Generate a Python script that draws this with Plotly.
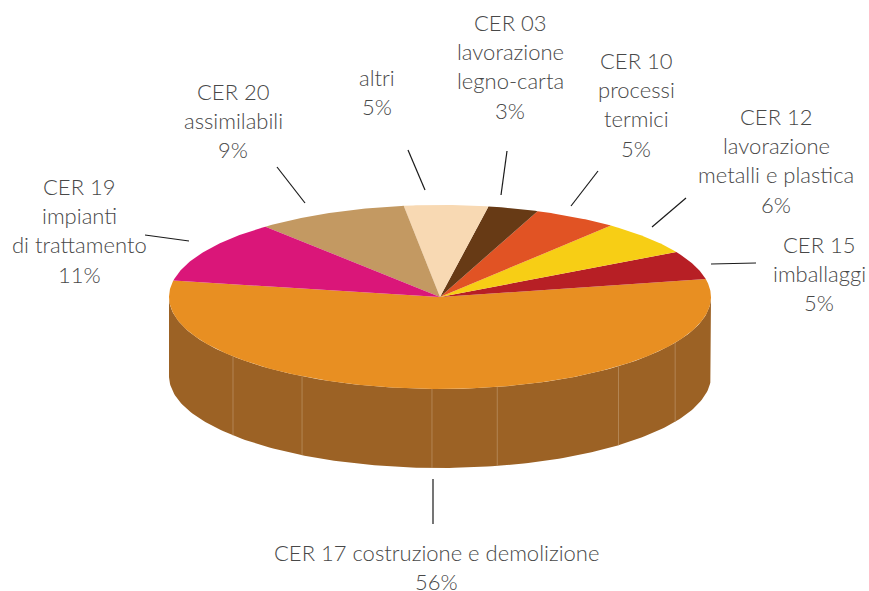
import numpy as np
import plotly.graph_objects as go

# ---- data ----
categories = ["CER 17", "CER 15", "CER 12", "CER 10", "CER 03", "altri", "CER 20", "CER 19"]
values = [56, 5, 6, 5, 3, 5, 9, 11]
colors = ["#E88F22", "#B71F25", "#F7CE15", "#E15324", "#673A15", "#F8D9B3", "#C39962", "#DA1679"]
label_lines = [
    ["CER 17 costruzione e demolizione", "56%"],
    ["CER 15", "imballaggi", "5%"],
    ["CER 12", "lavorazione", "metalli e plastica", "6%"],
    ["CER 10", "processi", "termici", "5%"],
    ["CER 03", "lavorazione", "legno-carta", "3%"],
    ["altri", "5%"],
    ["CER 20", "assimilabili", "9%"],
    ["CER 19", "impianti", "di trattamento", "11%"],
]

# ---- layout constants (pixel space of the picture) ----
W, H = 869, 591
CX, CY, RX, RY, DEPTH = 440, 297, 271, 92, 79
START_DEG = -190.3  # where the first slice starts, going counter-clockwise
SIDE = "#9C6225"
SEAM = "#B98E60"
seam_deg = [220.2, 239.4, 268.3, 282.2, 311.2, 330.2]
label_x = [436, 819, 776, 636, 510, 377, 233, 79]
label_y0 = [552, 244, 116, 60, 22, 77, 91, 186]
LINE_STEP = 29.4
connectors = [
    (433, 479, 433, 524), (711, 264, 756, 263), (652, 227, 686, 198), (571, 206, 598, 171),
    (501, 195, 507, 151), (425, 190, 408, 150), (305, 203, 277, 167), (189, 241, 145, 235),
]


def ex(deg):
    return CX + RX * np.cos(np.radians(deg))


def ey(deg):
    return CY - RY * np.sin(np.radians(deg))


fig = go.Figure()

# side wall
arc = np.linspace(180, 360, 181)
fig.add_trace(go.Scatter(
    x=np.r_[ex(arc), ex(arc[::-1])],
    y=np.r_[ey(arc), ey(arc[::-1]) + DEPTH],
    mode="lines", fill="toself", fillcolor=SIDE, line=dict(width=0),
    hoverinfo="skip", showlegend=False))

# seams on the wall
for d in seam_deg:
    fig.add_trace(go.Scatter(
        x=[ex(d), ex(d)], y=[ey(d), ey(d) + DEPTH], mode="lines",
        line=dict(color=SEAM, width=0.8), hoverinfo="skip", showlegend=False))

# top slices
total = sum(values)
angle = START_DEG
for name, v, c in zip(categories, values, colors):
    sweep = 360 * v / total
    t = np.linspace(angle, angle + sweep, max(int(sweep * 2), 8))
    fig.add_trace(go.Scatter(
        x=np.r_[CX, ex(t), CX], y=np.r_[CY, ey(t), CY],
        mode="lines", fill="toself", fillcolor=c, line=dict(width=0),
        name=name, showlegend=False, hovertemplate=f"{name}: {v}%<extra></extra>"))
    angle += sweep

# connectors
shapes = [dict(type="line", xref="x", yref="y", x0=a, y0=b, x1=c, y1=d,
               line=dict(color="#1a1a1a", width=1.2)) for a, b, c, d in connectors]

# labels: one annotation per line to keep the original line pitch
annotations = []
for lines, x, y0 in zip(label_lines, label_x, label_y0):
    for i, txt in enumerate(lines):
        annotations.append(dict(x=x, y=y0 + i * LINE_STEP, text=txt, showarrow=False,
                                xref="x", yref="y", xanchor="center", yanchor="middle",
                                font=dict(family="Lato", size=22, weight=300, color="#484848")))

fig.update_layout(
    width=W, height=H, margin=dict(l=0, r=0, t=0, b=0),
    paper_bgcolor="white", plot_bgcolor="white", showlegend=False,
    xaxis=dict(range=[0, W], visible=False, fixedrange=True),
    yaxis=dict(range=[H, 0], visible=False, fixedrange=True),
    shapes=shapes, annotations=annotations,
)
fig.write_html("out.html", config={"displayModeBar": False},
               post_script="document.body.style.margin='0';")
